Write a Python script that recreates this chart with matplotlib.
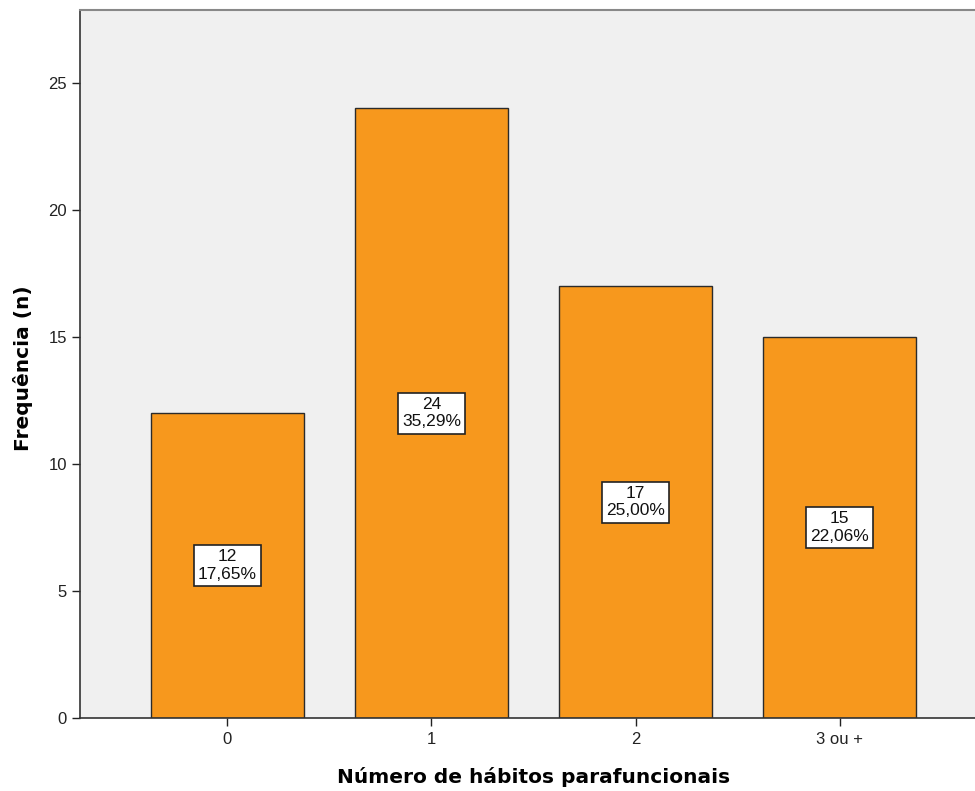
import matplotlib
matplotlib.use("Agg")
import matplotlib.pyplot as plt

categories = ["0", "1", "2", "3 ou +"]
counts = [12, 24, 17, 15]
percents = ["17,65%", "35,29%", "25,00%", "22,06%"]
yticks = [0, 5, 10, 15, 20, 25]

plt.rcParams['font.family'] = ['Liberation Sans', 'DejaVu Sans']

fig = plt.figure(figsize=(9.75, 7.91), dpi=100)
ax = fig.add_axes([80/975, 1-718/791, 907/975, 708/791])
ax.set_facecolor('#F0F0F0')

x = list(range(len(categories)))
ax.bar(x, counts, width=0.75, color='#F7981D', edgecolor='#2b2b2b', linewidth=1.0, zorder=2)

for xi, c, p in zip(x, counts, percents):
    ax.text(xi, c/2, f"{c}\n{p}", ha='center', va='center', fontsize=12.5,
            linespacing=1.2, zorder=3, color='#111111',
            bbox=dict(boxstyle='square,pad=0.25', facecolor='white', edgecolor='#222222', linewidth=1.2))

ax.set_xlim(-0.723, 3.723)
ax.set_ylim(0, 27.87)
ax.set_xticks(x)
ax.set_xticklabels(categories)
ax.set_yticks(yticks)
ax.tick_params(axis='both', labelsize=12, length=6, width=1, colors='#222222')
ax.tick_params(axis='x', pad=4)

for s in ['left', 'bottom']:
    ax.spines[s].set_color('#333333')
    ax.spines[s].set_linewidth(1.2)
ax.spines['top'].set_color('#888888')
ax.spines['top'].set_linewidth(1.5)
ax.spines['right'].set_visible(False)

fig.text(534/975, 1-777/791, "Número de hábitos parafuncionais", ha='center', va='center',
         fontsize=14.5, fontweight='bold', family='DejaVu Sans')
fig.text(23/975, 1-368/791, "Frequência (n)", ha='center', va='center', rotation=90,
         fontsize=14.5, fontweight='bold', family='DejaVu Sans')

fig.savefig("out.png", dpi=100)
